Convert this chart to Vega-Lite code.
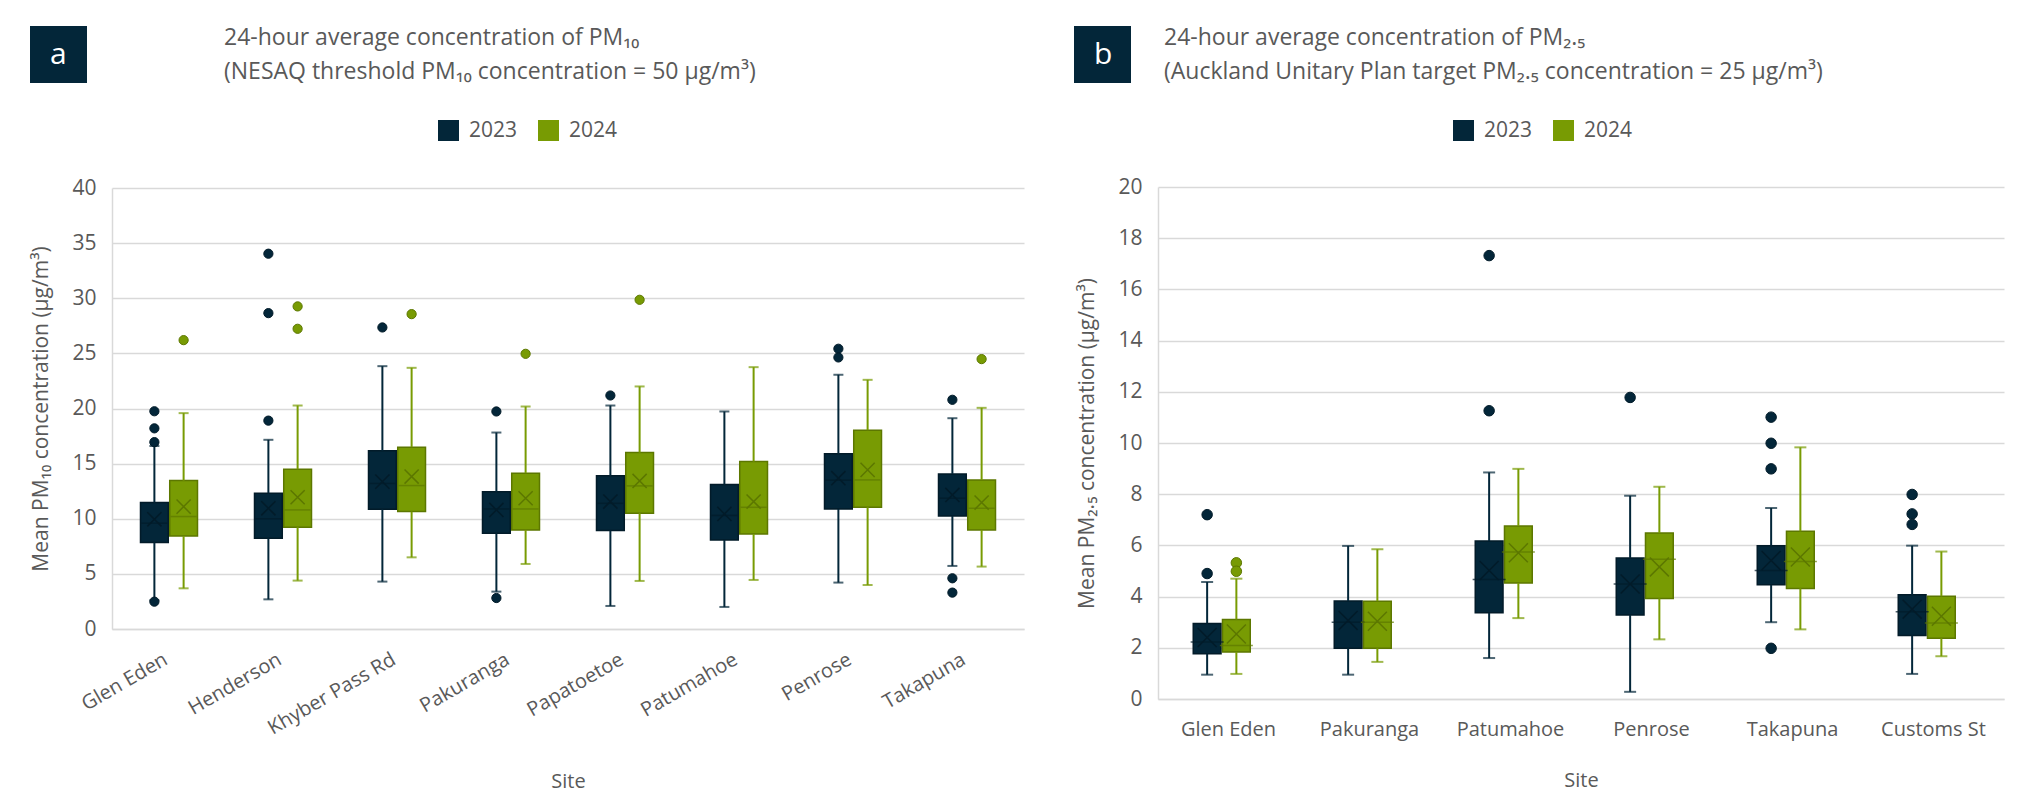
{
  "$schema": "https://vega.github.io/schema/vega-lite/v6.json",
  "padding": {"left": 30, "top": 26, "right": 21, "bottom": 5},
  "background": "white",
  "config": {
    "font": "Open Sans",
    "view": {"stroke": null},
    "axis": {"labelColor": "#595959", "titleColor": "#595959", "labelFont": "Open Sans", "titleFont": "Open Sans", "titleFontWeight": "normal", "ticks": false, "domainColor": "#d9d9d9", "gridColor": "#d9d9d9", "gridWidth": 1.5, "domainWidth": 1.5},
    "legend": {"labelColor": "#595959", "labelFont": "Open Sans", "labelFontSize": 21, "symbolType": "square", "symbolSize": 441, "symbolStrokeWidth": 0, "symbolOpacity": 1, "labelOffset": 10, "columnPadding": 20},
    "title": {"color": "#595959", "fontWeight": "normal", "font": "Open Sans", "fontSize": 23}
  },
  "datasets": {
    "statsA": [
      {"site": "Glen Eden", "year": "2023", "lo": 2.6, "q1": 7.84, "med": 9.6, "q3": 11.47, "hi": 16.6, "mean": 9.95},
      {"site": "Glen Eden", "year": "2024", "lo": 3.69, "q1": 8.44, "med": 10.2, "q3": 13.46, "hi": 19.58, "mean": 11.1},
      {"site": "Henderson", "year": "2023", "lo": 2.69, "q1": 8.23, "med": 10.0, "q3": 12.31, "hi": 17.16, "mean": 10.95},
      {"site": "Henderson", "year": "2024", "lo": 4.39, "q1": 9.23, "med": 10.8, "q3": 14.49, "hi": 20.27, "mean": 11.95},
      {"site": "Khyber Pass Rd", "year": "2023", "lo": 4.3, "q1": 10.86, "med": 13.2, "q3": 16.16, "hi": 23.84, "mean": 13.37},
      {"site": "Khyber Pass Rd", "year": "2024", "lo": 6.5, "q1": 10.65, "med": 13.01, "q3": 16.49, "hi": 23.69, "mean": 13.83},
      {"site": "Pakuranga", "year": "2023", "lo": 3.39, "q1": 8.68, "med": 10.89, "q3": 12.44, "hi": 17.82, "mean": 10.8},
      {"site": "Pakuranga", "year": "2024", "lo": 5.9, "q1": 8.99, "med": 10.89, "q3": 14.13, "hi": 20.18, "mean": 11.86},
      {"site": "Papatoetoe", "year": "2023", "lo": 2.09, "q1": 8.93, "med": 11.4, "q3": 13.89, "hi": 20.27, "mean": 11.56},
      {"site": "Papatoetoe", "year": "2024", "lo": 4.36, "q1": 10.5, "med": 12.98, "q3": 16.0, "hi": 22.0, "mean": 13.43},
      {"site": "Patumahoe", "year": "2023", "lo": 2.0, "q1": 8.08, "med": 10.3, "q3": 13.1, "hi": 19.73, "mean": 10.44},
      {"site": "Patumahoe", "year": "2024", "lo": 4.45, "q1": 8.62, "med": 11.04, "q3": 15.19, "hi": 23.75, "mean": 11.56},
      {"site": "Penrose", "year": "2023", "lo": 4.21, "q1": 10.89, "med": 13.5, "q3": 15.89, "hi": 23.06, "mean": 13.68},
      {"site": "Penrose", "year": "2024", "lo": 3.99, "q1": 11.04, "med": 13.52, "q3": 18.03, "hi": 22.6, "mean": 14.43},
      {"site": "Takapuna", "year": "2023", "lo": 5.72, "q1": 10.26, "med": 11.86, "q3": 14.07, "hi": 19.12, "mean": 12.16},
      {"site": "Takapuna", "year": "2024", "lo": 5.66, "q1": 8.99, "med": 10.95, "q3": 13.52, "hi": 20.06, "mean": 11.47}
    ],
    "outA": [
      {"site": "Glen Eden", "year": "2023", "v": 16.95},
      {"site": "Glen Eden", "year": "2023", "v": 18.2},
      {"site": "Glen Eden", "year": "2023", "v": 19.75},
      {"site": "Glen Eden", "year": "2023", "v": 2.48},
      {"site": "Glen Eden", "year": "2024", "v": 26.2},
      {"site": "Henderson", "year": "2023", "v": 34.04},
      {"site": "Henderson", "year": "2023", "v": 28.65},
      {"site": "Henderson", "year": "2023", "v": 18.9},
      {"site": "Henderson", "year": "2024", "v": 29.26},
      {"site": "Henderson", "year": "2024", "v": 27.23},
      {"site": "Khyber Pass Rd", "year": "2023", "v": 27.35},
      {"site": "Khyber Pass Rd", "year": "2024", "v": 28.56},
      {"site": "Pakuranga", "year": "2023", "v": 19.73},
      {"site": "Pakuranga", "year": "2023", "v": 2.81},
      {"site": "Pakuranga", "year": "2024", "v": 24.96},
      {"site": "Papatoetoe", "year": "2023", "v": 21.18},
      {"site": "Papatoetoe", "year": "2024", "v": 29.86},
      {"site": "Penrose", "year": "2023", "v": 25.42},
      {"site": "Penrose", "year": "2023", "v": 24.63},
      {"site": "Takapuna", "year": "2023", "v": 20.79},
      {"site": "Takapuna", "year": "2023", "v": 4.6},
      {"site": "Takapuna", "year": "2023", "v": 3.3},
      {"site": "Takapuna", "year": "2024", "v": 24.48}
    ],
    "statsB": [
      {"site": "Glen Eden", "year": "2023", "lo": 0.95, "q1": 1.77, "med": 2.23, "q3": 2.95, "hi": 4.57, "mean": 2.4},
      {"site": "Glen Eden", "year": "2024", "lo": 0.98, "q1": 1.84, "med": 2.09, "q3": 3.11, "hi": 4.7, "mean": 2.54},
      {"site": "Pakuranga", "year": "2023", "lo": 0.95, "q1": 1.98, "med": 3.0, "q3": 3.83, "hi": 5.98, "mean": 3.07},
      {"site": "Pakuranga", "year": "2024", "lo": 1.45, "q1": 1.98, "med": 3.0, "q3": 3.82, "hi": 5.85, "mean": 3.04},
      {"site": "Patumahoe", "year": "2023", "lo": 1.6, "q1": 3.37, "med": 4.67, "q3": 6.17, "hi": 8.85, "mean": 5.02},
      {"site": "Patumahoe", "year": "2024", "lo": 3.16, "q1": 4.53, "med": 5.74, "q3": 6.76, "hi": 8.99, "mean": 5.71},
      {"site": "Penrose", "year": "2023", "lo": 0.28, "q1": 3.28, "med": 4.49, "q3": 5.51, "hi": 7.94, "mean": 4.49},
      {"site": "Penrose", "year": "2024", "lo": 2.33, "q1": 3.93, "med": 5.46, "q3": 6.48, "hi": 8.29, "mean": 5.16},
      {"site": "Takapuna", "year": "2023", "lo": 3.0, "q1": 4.46, "med": 5.02, "q3": 5.99, "hi": 7.46, "mean": 5.41},
      {"site": "Takapuna", "year": "2024", "lo": 2.72, "q1": 4.32, "med": 5.37, "q3": 6.55, "hi": 9.83, "mean": 5.55},
      {"site": "Customs St", "year": "2023", "lo": 0.98, "q1": 2.48, "med": 3.41, "q3": 4.07, "hi": 5.99, "mean": 3.51},
      {"site": "Customs St", "year": "2024", "lo": 1.67, "q1": 2.37, "med": 2.97, "q3": 4.01, "hi": 5.76, "mean": 3.23}
    ],
    "outB": [
      {"site": "Glen Eden", "year": "2023", "v": 7.2},
      {"site": "Glen Eden", "year": "2023", "v": 4.9},
      {"site": "Glen Eden", "year": "2024", "v": 5.32},
      {"site": "Glen Eden", "year": "2024", "v": 4.99},
      {"site": "Patumahoe", "year": "2023", "v": 17.32},
      {"site": "Patumahoe", "year": "2023", "v": 11.26},
      {"site": "Penrose", "year": "2023", "v": 11.78},
      {"site": "Takapuna", "year": "2023", "v": 11.01},
      {"site": "Takapuna", "year": "2023", "v": 9.99},
      {"site": "Takapuna", "year": "2023", "v": 8.99},
      {"site": "Takapuna", "year": "2023", "v": 1.98},
      {"site": "Customs St", "year": "2023", "v": 7.99},
      {"site": "Customs St", "year": "2023", "v": 7.23},
      {"site": "Customs St", "year": "2023", "v": 6.82}
    ]
  },
  "spacing": 50,
  "resolve": {"scale": {"color": "independent", "stroke": "independent", "fill": "independent"}, "legend": {"color": "independent"}},
  "hconcat": [
    {
      "spacing": 36,
      "resolve": {"scale": {"color": "independent", "stroke": "independent", "fill": "independent"}, "legend": {"color": "independent"}},
      "vconcat": [
        {
          "width": 224, "height": 58,
          "layer": [
            {
              "data": {"values": [{"i": 1, "t": "24-hour average concentration of PM₁₀"}, {"i": 2, "t": "(NESAQ threshold PM₁₀ concentration = 50 µg/m³)"}]},
              "mark": {"type": "text", "align": "left", "baseline": "middle", "fontSize": 23, "color": "#595959"},
              "encoding": {"y": {"field": "i", "type": "ordinal", "axis": null, "scale": {"padding": 0.353}}, "text": {"field": "t", "type": "nominal"}}
            },
            {
              "data": {"values": [{"panel": "a"}]},
              "mark": {"type": "text", "text": ""},
              "encoding": {"color": {"field": "panel", "type": "nominal", "scale": {"range": ["#032639"]}, "legend": {"orient": "left", "offset": 25, "title": null, "symbolType": "square", "symbolSize": 3249, "symbolStrokeWidth": 0, "symbolOpacity": 1, "labelColor": "white", "labelFontSize": 30, "labelOffset": -37, "padding": 0}}}
            }
          ]
        },
        {
          "width": 912, "height": 441,
          "data": {"name": "statsA"},
          "encoding": {
            "x": {"field": "site", "type": "nominal", "sort": ["Glen Eden", "Henderson", "Khyber Pass Rd", "Pakuranga", "Papatoetoe", "Patumahoe", "Penrose", "Takapuna"], "scale": {"paddingInner": 0.5, "paddingOuter": 0.25}, "title": "Site", "axis": {"labelAngle": -30, "labelAlign": "right", "labelBaseline": "top", "labelPadding": 20, "labelOffset": -8, "labelFontSize": 20, "titleFontSize": 20, "titlePadding": 34, "grid": false}},
            "xOffset": {"field": "year", "type": "nominal", "scale": {"paddingInner": 0.05}}
          },
          "layer": [
            {
              "mark": {"type": "bar", "strokeWidth": 1.5},
              "encoding": {
                "y": {"field": "q1", "type": "quantitative", "title": "Mean PM₁₀ concentration (µg/m³)", "scale": {"domain": [0, 40], "nice": false}, "axis": {"values": [0, 5, 10, 15, 20, 25, 30, 35, 40], "labelFontSize": 21, "titleFontSize": 21, "labelPadding": 16, "titlePadding": 20}},
                "y2": {"field": "q3"},
                "color": {"field": "year", "type": "nominal", "scale": {"domain": ["2023", "2024"], "range": ["#032639", "#789B03"]}, "legend": {"orient": "none", "legendX": 326, "legendY": -68, "direction": "horizontal", "title": null}},
                "stroke": {"field": "year", "type": "nominal", "scale": {"domain": ["2023", "2024"], "range": ["#021b29", "#5c7700"]}, "legend": null}
              }
            },
            {
              "mark": {"type": "rule", "strokeWidth": 2},
              "encoding": {"y": {"field": "lo", "type": "quantitative", "title": "Mean PM₁₀ concentration (µg/m³)"}, "y2": {"field": "q1"}, "color": {"field": "year", "type": "nominal"}}
            },
            {
              "mark": {"type": "rule", "strokeWidth": 2},
              "encoding": {"y": {"field": "q3", "type": "quantitative", "title": "Mean PM₁₀ concentration (µg/m³)"}, "y2": {"field": "hi"}, "color": {"field": "year", "type": "nominal"}}
            },
            {
              "mark": {"type": "tick", "size": 10, "thickness": 2},
              "encoding": {"y": {"field": "lo", "type": "quantitative", "title": "Mean PM₁₀ concentration (µg/m³)"}, "color": {"field": "year", "type": "nominal"}}
            },
            {
              "mark": {"type": "tick", "size": 10, "thickness": 2},
              "encoding": {"y": {"field": "hi", "type": "quantitative", "title": "Mean PM₁₀ concentration (µg/m³)"}, "color": {"field": "year", "type": "nominal"}}
            },
            {
              "mark": {"type": "tick", "size": 26, "thickness": 1.5},
              "encoding": {"y": {"field": "med", "type": "quantitative", "title": "Mean PM₁₀ concentration (µg/m³)"}, "fill": {"field": "year", "type": "nominal", "scale": {"domain": ["2023", "2024"], "range": ["#021b29", "#5c7700"]}, "legend": null}}
            },
            {
              "mark": {"type": "point", "shape": "M-1,-1L1,1M-1,1L1,-1", "filled": false, "size": 200, "strokeWidth": 1.5, "opacity": 1},
              "encoding": {"y": {"field": "mean", "type": "quantitative", "title": "Mean PM₁₀ concentration (µg/m³)"}, "stroke": {"field": "year", "type": "nominal"}}
            },
            {
              "data": {"name": "outA"},
              "mark": {"type": "point", "shape": "circle", "filled": true, "size": 85, "opacity": 1, "strokeWidth": 1},
              "encoding": {"y": {"field": "v", "type": "quantitative", "title": "Mean PM₁₀ concentration (µg/m³)"}, "color": {"field": "year", "type": "nominal"}, "stroke": {"field": "year", "type": "nominal"}}
            }
          ]
        }
      ]
    },
    {
      "spacing": 36,
      "resolve": {"scale": {"color": "independent", "stroke": "independent", "fill": "independent"}, "legend": {"color": "independent"}},
      "vconcat": [
        {
          "width": 12, "height": 58,
          "layer": [
            {
              "data": {"values": [{"i": 1, "t": "24-hour average concentration of PM₂.₅"}, {"i": 2, "t": "(Auckland Unitary Plan target  PM₂.₅ concentration = 25 µg/m³)"}]},
              "mark": {"type": "text", "align": "left", "baseline": "middle", "fontSize": 23, "color": "#595959"},
              "encoding": {"y": {"field": "i", "type": "ordinal", "axis": null, "scale": {"padding": 0.353}}, "text": {"field": "t", "type": "nominal"}}
            },
            {
              "data": {"values": [{"panel": "b"}]},
              "mark": {"type": "text", "text": ""},
              "encoding": {"color": {"field": "panel", "type": "nominal", "scale": {"range": ["#032639"]}, "legend": {"orient": "left", "offset": 27, "title": null, "symbolType": "square", "symbolSize": 3249, "symbolStrokeWidth": 0, "symbolOpacity": 1, "labelColor": "white", "labelFontSize": 30, "labelOffset": -37, "padding": 0}}}
            }
          ]
        },
        {
          "width": 846, "height": 512,
          "data": {"name": "statsB"},
          "encoding": {
            "x": {"field": "site", "type": "nominal", "sort": ["Glen Eden", "Pakuranga", "Patumahoe", "Penrose", "Takapuna", "Customs St"], "scale": {"paddingInner": 0.5, "paddingOuter": 0.25}, "title": "Site", "axis": {"labelAngle": 0, "labelPadding": 20, "labelFontSize": 20, "titleFontSize": 20, "titlePadding": 31, "grid": false}},
            "xOffset": {"field": "year", "type": "nominal", "scale": {"paddingInner": 0.05}}
          },
          "layer": [
            {
              "mark": {"type": "bar", "strokeWidth": 1.5},
              "encoding": {
                "y": {"field": "q1", "type": "quantitative", "title": "Mean PM₂.₅ concentration (µg/m³)", "scale": {"domain": [0, 20], "nice": false}, "axis": {"values": [0, 2, 4, 6, 8, 10, 12, 14, 16, 18, 20], "labelFontSize": 21, "titleFontSize": 21, "labelPadding": 16, "titlePadding": 20}},
                "y2": {"field": "q3"},
                "color": {"field": "year", "type": "nominal", "scale": {"domain": ["2023", "2024"], "range": ["#032639", "#789B03"]}, "legend": {"orient": "none", "legendX": 295, "legendY": -67, "direction": "horizontal", "title": null}},
                "stroke": {"field": "year", "type": "nominal", "scale": {"domain": ["2023", "2024"], "range": ["#021b29", "#5c7700"]}, "legend": null}
              }
            },
            {
              "mark": {"type": "rule", "strokeWidth": 2},
              "encoding": {"y": {"field": "lo", "type": "quantitative", "title": "Mean PM₂.₅ concentration (µg/m³)"}, "y2": {"field": "q1"}, "color": {"field": "year", "type": "nominal"}}
            },
            {
              "mark": {"type": "rule", "strokeWidth": 2},
              "encoding": {"y": {"field": "q3", "type": "quantitative", "title": "Mean PM₂.₅ concentration (µg/m³)"}, "y2": {"field": "hi"}, "color": {"field": "year", "type": "nominal"}}
            },
            {
              "mark": {"type": "tick", "size": 12, "thickness": 2},
              "encoding": {"y": {"field": "lo", "type": "quantitative", "title": "Mean PM₂.₅ concentration (µg/m³)"}, "color": {"field": "year", "type": "nominal"}}
            },
            {
              "mark": {"type": "tick", "size": 12, "thickness": 2},
              "encoding": {"y": {"field": "hi", "type": "quantitative", "title": "Mean PM₂.₅ concentration (µg/m³)"}, "color": {"field": "year", "type": "nominal"}}
            },
            {
              "mark": {"type": "tick", "size": 33, "thickness": 1.5},
              "encoding": {"y": {"field": "med", "type": "quantitative", "title": "Mean PM₂.₅ concentration (µg/m³)"}, "fill": {"field": "year", "type": "nominal", "scale": {"domain": ["2023", "2024"], "range": ["#021b29", "#5c7700"]}, "legend": null}}
            },
            {
              "mark": {"type": "point", "shape": "M-1,-1L1,1M-1,1L1,-1", "filled": false, "size": 360, "strokeWidth": 1.5, "opacity": 1},
              "encoding": {"y": {"field": "mean", "type": "quantitative", "title": "Mean PM₂.₅ concentration (µg/m³)"}, "stroke": {"field": "year", "type": "nominal"}}
            },
            {
              "data": {"name": "outB"},
              "mark": {"type": "point", "shape": "circle", "filled": true, "size": 110, "opacity": 1, "strokeWidth": 1},
              "encoding": {"y": {"field": "v", "type": "quantitative", "title": "Mean PM₂.₅ concentration (µg/m³)"}, "color": {"field": "year", "type": "nominal"}, "stroke": {"field": "year", "type": "nominal"}}
            }
          ]
        }
      ]
    }
  ]
}
